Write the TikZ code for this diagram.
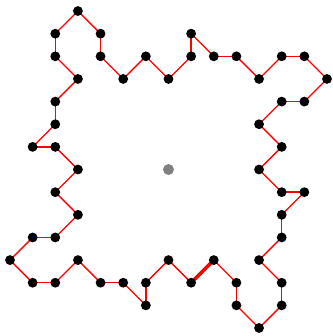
\documentclass[tikz,border=0pt]{standalone}
\begin{document}
\begin{tikzpicture}[x=0.6cm,y=-0.6cm,
  dot/.style={circle,fill=black,inner sep=0pt,minimum size=0.26cm},
  cdot/.style={circle,fill=gray,inner sep=0pt,minimum size=0.29cm},
  edge/.style={draw=red,line width=1pt},
  thickedge/.style={draw=red,line width=2.6pt}]
\useasboundingbox (-7.442,-7.487) rectangle (7.222,7.353);
\node[cdot] (c) at (0,0) {};
\foreach \x/\y [count=\k] in {-4/-7,-3/-6,-3/-5,-2/-4,-1/-5,0/-4,1/-5,1/-6,2/-5,3/-5,4/-4,5/-5,6/-5,7/-4,6/-3,5/-3,4/-2,5/-1,4/0,5/1,6/1,5/2,5/3,4/4,5/5,5/6,4/7,3/6,3/5,2/4,1/5,0/4,-1/5,-1/6,-2/5,-3/5,-4/4,-5/5,-6/5,-7/4,-6/3,-5/3,-4/2,-5/1,-4/0,-5/-1,-6/-1,-5/-2,-5/-3,-4/-4,-5/-5,-5/-6}
  \coordinate (q\k) at (\x,\y);
\foreach \k [evaluate=\k as \n using {int(mod(\k,52)+1)}] in {1,...,52}{
  \ifnum\k=30
    \path[thickedge] (q\k) -- (q\n);
  \else
    \path[edge] (q\k) -- (q\n);
  \fi
}
\foreach \k in {1,...,52}
  \node[dot] (p\k) at (q\k) {};
\end{tikzpicture}
\end{document}
